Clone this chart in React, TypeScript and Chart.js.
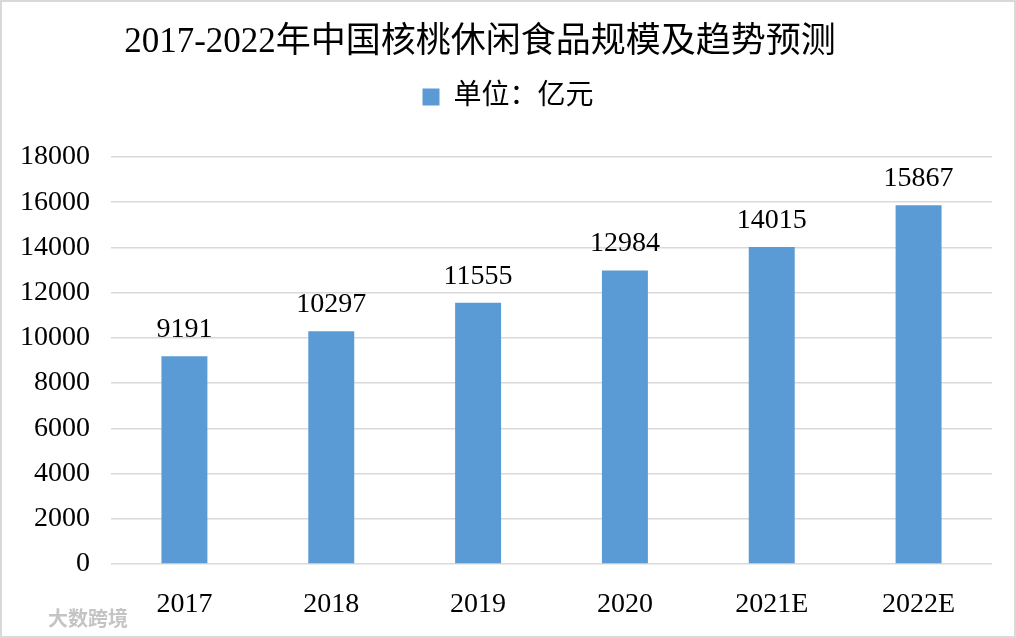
import React, { useEffect, useRef } from "react";
import { Chart, registerables } from "chart.js";

Chart.register(...registerables);

const titleText = "2017-2022年中国核桃休闲食品规模及趋势预测";
const seriesLabel = "单位：亿元";
const categories = ["2017", "2018", "2019", "2020", "2021E", "2022E"];
const values = [9191, 10297, 11555, 12984, 14015, 15867];
const yTickValues = [0, 2000, 4000, 6000, 8000, 10000, 12000, 14000, 16000, 18000];
const watermarkText = "大数跨境";

const SERIF = '"Liberation Serif", "Times New Roman", "Noto Sans CJK SC", serif';
const BAR_COLOR = "#5B9BD5";
const GRID_COLOR = "#d9d9d9";

const decorPlugin = {
  id: "decor",
  beforeDraw(chart: any) {
    const { ctx, width, height } = chart;
    ctx.save();
    ctx.fillStyle = "#ffffff";
    ctx.fillRect(0, 0, width, height);
    ctx.restore();
  },
  afterDatasetsDraw(chart: any) {
    const { ctx } = chart;
    const meta = chart.getDatasetMeta(0);
    ctx.save();
    ctx.font = `28px ${SERIF}`;
    ctx.fillStyle = "#000000";
    ctx.textAlign = "center";
    ctx.textBaseline = "alphabetic";
    meta.data.forEach((bar: any, i: number) => {
      ctx.fillText(String(values[i]), bar.x, bar.y - 19);
    });
    ctx.restore();
  },
  afterDraw(chart: any) {
    const { ctx, width, height } = chart;
    ctx.save();
    // title
    ctx.font = `35px ${SERIF}`;
    ctx.fillStyle = "#000000";
    ctx.textAlign = "center";
    ctx.textBaseline = "alphabetic";
    ctx.fillText(titleText, 480, 52);
    // watermark
    ctx.font = `bold 20px "Noto Sans CJK SC", sans-serif`;
    ctx.textAlign = "left";
    ctx.textBaseline = "middle";
    ctx.lineWidth = 3;
    ctx.strokeStyle = "rgba(255,255,255,0.9)";
    ctx.strokeText(watermarkText, 48, 618);
    ctx.fillStyle = "rgba(190,190,190,0.9)";
    ctx.fillText(watermarkText, 48, 618);
    // frame
    ctx.strokeStyle = GRID_COLOR;
    ctx.lineWidth = 2;
    ctx.strokeRect(1, 1, width - 2, height - 2);
    ctx.restore();
  },
};

export default function App() {
  const canvasRef = useRef<HTMLCanvasElement | null>(null);

  useEffect(() => {
    document.body.style.margin = "0";
    const canvas = canvasRef.current;
    if (!canvas) return;
    const chart = new Chart(canvas, {
      type: "bar",
      data: {
        labels: categories,
        datasets: [
          {
            label: seriesLabel,
            data: values,
            backgroundColor: BAR_COLOR,
            borderWidth: 0,
            categoryPercentage: 1,
            barPercentage: 0.313,
            yAxisID: "y",
          },
        ],
      },
      options: {
        animation: false,
        responsive: true,
        maintainAspectRatio: false,
        layout: { padding: { top: 73, left: 0, right: 0, bottom: 0 } },
        plugins: {
          title: { display: false },
          subtitle: {
            display: true,
            text: "",
            position: "top",
            weight: 500,
            font: { size: 1, lineHeight: 1 },
            padding: { top: 0, bottom: 35 },
          },
          legend: {
            display: true,
            position: "top",
            labels: {
              color: "#000000",
              font: { family: SERIF, size: 28 },
              boxWidth: 17,
              boxHeight: 17,
              padding: 10,
            },
          },
          tooltip: { enabled: false },
        },
        scales: {
          x: {
            grid: { display: false },
            border: { display: false },
            ticks: {
              color: "#000000",
              font: { family: SERIF, size: 28 },
              padding: 16,
              maxRotation: 0,
            },
            afterFit: (s: any) => {
              s.height = 74;
            },
          },
          y: {
            position: "left",
            min: 0,
            max: 18000,
            grid: { color: GRID_COLOR, lineWidth: 1.5, drawTicks: false },
            border: { display: false },
            ticks: {
              color: "#000000",
              font: { family: SERIF, size: 28 },
              padding: 21,
              callback: (v: any) => String(v),
            },
            afterBuildTicks: (axis: any) => {
              axis.ticks = yTickValues.map((v) => ({ value: v }));
            },
            afterFit: (s: any) => {
              s.width = 111;
            },
          },
          yRight: {
            position: "right",
            display: true,
            grid: { display: false },
            border: { display: false },
            ticks: { display: false },
            afterFit: (s: any) => {
              s.width = 24;
            },
          },
        },
      },
      plugins: [decorPlugin],
    } as any);
    return () => chart.destroy();
  }, []);

  return (
    <div style={{ position: "absolute", left: 0, top: 0, width: 1016, height: 638 }}>
      <canvas ref={canvasRef} />
    </div>
  );
}
